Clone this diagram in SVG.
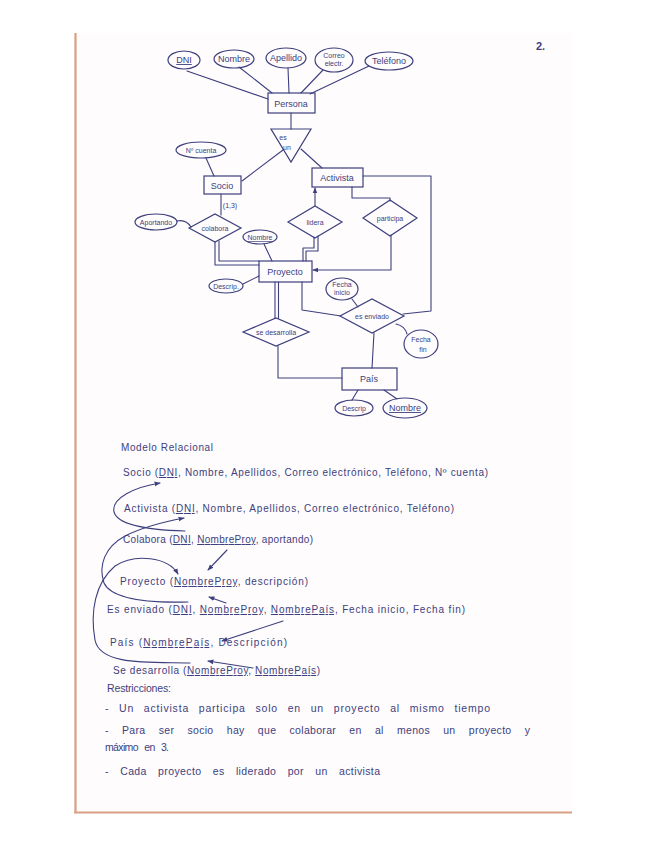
<svg xmlns="http://www.w3.org/2000/svg" width="655" height="848" viewBox="0 0 655 848">
<style>
  .ln { fill:none; stroke:#3d3f7e; stroke-width:1.1; stroke-linecap:round; stroke-linejoin:round }
  .shape { fill:none; stroke:#3d3f7e; stroke-width:1.2 }
  text { font-family:"Liberation Sans", Arial, sans-serif; fill:#3d3f7e }
  .lbl { font-size:9px; text-anchor:middle }
  .sm { font-size:7px; text-anchor:middle }
  .rel { font-size:10px }
  .rst { font-size:10.5px }
  .u { text-decoration:underline }
</style>
<defs>
  <marker id="ah" viewBox="0 0 10 10" refX="9" refY="5" markerWidth="6" markerHeight="6" orient="auto-start-reverse" markerUnits="userSpaceOnUse">
    <path d="M0,1 L10,5 L0,9 z" fill="#3d3f7e"/>
  </marker>
</defs>
<rect x="0" y="0" width="655" height="848" fill="#ffffff"/>
<rect x="75" y="33" width="497" height="779" fill="#fefcfc"/>
<line x1="75.5" y1="33" x2="75.5" y2="813" stroke="#d89f82" stroke-width="2.2"/>
<line x1="74" y1="812.5" x2="572" y2="812.5" stroke="#d89f82" stroke-width="2.2"/>
<text x="536" y="50" font-size="11" font-weight="bold">2.</text>

<g id="connectors">
  <line class="ln" x1="187" y1="71" x2="268" y2="99"/>
  <line class="ln" x1="239" y1="67" x2="272" y2="93"/>
  <line class="ln" x1="288" y1="68" x2="289" y2="93"/>
  <line class="ln" x1="323" y1="70" x2="301" y2="93"/>
  <line class="ln" x1="369" y1="66" x2="310" y2="94"/>
  <line class="ln" x1="291" y1="113" x2="291" y2="129"/>
  <line class="ln" x1="283" y1="150" x2="242" y2="181"/>
  <line class="ln" x1="301" y1="149" x2="322" y2="168"/>
  <line class="ln" x1="206" y1="158" x2="214" y2="176"/>
  <line class="ln" x1="221" y1="194" x2="221" y2="215"/>
  <path class="ln" d="M177 221 Q186 219 191 227"/>
  <path class="ln" d="M215 242 V265 H259"/>
  <path class="ln" d="M219 241 V261 H259"/>
  <line class="ln" x1="315" y1="206" x2="315" y2="188" marker-end="url(#ah)"/>
  <path class="ln" d="M314 237 V248 H303 V261"/>
  <path class="ln" d="M318 236 V251 H306 V261"/>
  <path class="ln" d="M352 187 V198 H390 V201"/>
  <path class="ln" d="M391 235 V270 H313" marker-end="url(#ah)"/>
  <path class="ln" d="M363 176 H431 V311 L403 314"/>
  <line class="ln" x1="264" y1="244" x2="272" y2="261"/>
  <line class="ln" x1="243" y1="284" x2="259" y2="276"/>
  <path class="ln" d="M302 282 V310 L341 316"/>
  <line class="ln" x1="352" y1="299" x2="358" y2="307"/>
  <path class="ln" d="M396 324 Q405 326 407 334"/>
  <line class="ln" x1="374" y1="333" x2="372" y2="368"/>
  <line class="ln" x1="275" y1="282" x2="275" y2="318"/>
  <line class="ln" x1="278.5" y1="282" x2="278.5" y2="318"/>
  <path class="ln" d="M278 346 V378 H342"/>
  <line class="ln" x1="358" y1="390" x2="352" y2="400"/>
  <line class="ln" x1="384" y1="390" x2="397" y2="399"/>
  <!-- relational model foreign-key arrows -->
  <path class="ln" d="M185 531 C150 530 118 526 114 512 C111 498 135 487 160 483" marker-end="url(#ah)"/>
  <path class="ln" d="M188 602 C150 603 112 600 104 583 C98 565 105 547 125 536 C145 526 168 521 184 518" marker-end="url(#ah)"/>
  <line class="ln" x1="227" y1="550" x2="208" y2="570" marker-end="url(#ah)"/>
  <line class="ln" x1="226" y1="603" x2="209" y2="597" marker-end="url(#ah)"/>
  <line class="ln" x1="283" y1="621" x2="222" y2="641" marker-end="url(#ah)"/>
  <path class="ln" d="M190 663 C150 662 100 666 95 640 C90 612 95 583 115 566 C135 553 168 557 178 574" marker-end="url(#ah)"/>
  <line class="ln" x1="253" y1="668" x2="208" y2="661" marker-end="url(#ah)"/>
</g>

<g id="attr-dni"><ellipse class="shape" cx="184" cy="60" rx="16" ry="9"/><text class="lbl u" x="184" y="63">DNI</text></g>
<g id="attr-nombre"><ellipse class="shape" cx="234" cy="59" rx="20" ry="9"/><text class="lbl" x="234" y="62">Nombre</text></g>
<g id="attr-apellido"><ellipse class="shape" cx="286" cy="58" rx="20" ry="10"/><text class="lbl" x="286" y="61">Apellido</text></g>
<g id="attr-correo"><ellipse class="shape" cx="334" cy="60" rx="19" ry="12"/><text class="sm" x="334" y="58">Correo</text><text class="sm" x="334" y="66">electr.</text></g>
<g id="attr-telefono"><ellipse class="shape" cx="389" cy="61" rx="24" ry="9"/><text class="lbl" x="389" y="64">Teléfono</text></g>
<g id="persona"><rect class="shape" x="268" y="93" width="47" height="20"/><text class="lbl" x="291" y="107">Persona</text></g>
<g id="es-un"><polygon class="shape" points="271,129 311,129 291,162"/><text class="sm" x="283" y="140">es</text><text class="sm" x="287" y="150">un</text></g>
<g id="attr-ncuenta"><ellipse class="shape" cx="201" cy="150" rx="25" ry="8"/><text class="sm" x="201" y="153">Nº cuenta</text></g>
<g id="socio"><rect class="shape" x="204" y="176" width="37" height="18"/><text class="lbl" x="222" y="189">Socio</text></g>
<g id="activista"><rect class="shape" x="312" y="168" width="51" height="19"/><text class="lbl" x="337" y="181">Activista</text></g>
<text class="sm" x="230" y="208" font-size="8">(1,3)</text>
<g id="colabora"><polygon class="shape" points="189,228 215,214 241,228 215,242"/><text class="sm" x="215" y="231" font-size="8">colabora</text></g>
<g id="attr-aportando"><ellipse class="shape" cx="156" cy="222" rx="21" ry="8"/><text class="sm" x="156" y="225">Aportando</text></g>
<g id="lidera"><polygon class="shape" points="288,222 315,206 342,222 315,238"/><text class="sm" x="315" y="225" font-size="8">lidera</text></g>
<g id="participa"><polygon class="shape" points="363,218 390,200 417,218 390,236"/><text class="sm" x="390" y="221" font-size="8">participa</text></g>
<g id="attr-nombre-proy"><ellipse class="shape" cx="260" cy="237" rx="17" ry="7"/><text class="sm u" x="260" y="240">Nombre</text></g>
<g id="proyecto"><rect class="shape" x="259" y="261" width="53" height="21"/><text class="lbl" x="285" y="275" font-size="10">Proyecto</text></g>
<g id="attr-descrip-proy"><ellipse class="shape" cx="226" cy="286" rx="17" ry="7"/><text class="sm" x="226" y="289">Descrip.</text></g>
<g id="attr-fecha-inicio"><ellipse class="shape" cx="342" cy="289" rx="16" ry="11"/><text class="sm" x="342" y="287" font-size="6.5">Fecha</text><text class="sm" x="342" y="295" font-size="6.5">inicio</text></g>
<g id="es-enviado"><polygon class="shape" points="340,316 372,299 404,316 372,333"/><text class="sm" x="372" y="319" font-size="8">es enviado</text></g>
<g id="attr-fecha-fin"><ellipse class="shape" cx="421" cy="344" rx="17" ry="14"/><text class="sm" x="421" y="342" font-size="8">Fecha</text><text class="sm" x="423" y="352" font-size="8">fin</text></g>
<g id="se-desarrolla"><polygon class="shape" points="243,332 276,318 309,332 276,346"/><text class="sm" x="276" y="335" font-size="7.5">se desarrolla</text></g>
<g id="pais"><rect class="shape" x="342" y="368" width="55" height="22"/><text class="lbl" x="369" y="382">País</text></g>
<g id="attr-descrip-pais"><ellipse class="shape" cx="354" cy="408" rx="19" ry="8"/><text class="sm" x="354" y="411">Descrip</text></g>
<g id="attr-nombre-pais"><ellipse class="shape" cx="405" cy="408" rx="22" ry="10"/><text class="lbl u" x="405" y="411" font-size="8">Nombre</text></g>

<g id="relational">
  <text class="rel" x="121" y="451" font-size="10.5" textLength="92" lengthAdjust="spacing">Modelo Relacional</text>
  <text class="rel" x="123" y="476" textLength="365" lengthAdjust="spacing">Socio (<tspan class="u">DNI</tspan>, Nombre, Apellidos, Correo electrónico, Teléfono, Nº cuenta)</text>
  <text class="rel" x="124" y="512" textLength="330" lengthAdjust="spacing">Activista (<tspan class="u">DNI</tspan>, Nombre, Apellidos, Correo electrónico, Teléfono)</text>
  <text class="rel" x="123" y="543" textLength="190" lengthAdjust="spacing">Colabora (<tspan class="u">DNI</tspan>, <tspan class="u">NombreProy</tspan>, aportando)</text>
  <text class="rel" x="120" y="585" textLength="188" lengthAdjust="spacing">Proyecto (<tspan class="u">NombreProy</tspan>, descripción)</text>
  <text class="rel" x="107" y="613" textLength="358" lengthAdjust="spacing">Es enviado (<tspan class="u">DNI</tspan>, <tspan class="u">NombreProy</tspan>, <tspan class="u">NombrePaís</tspan>, Fecha inicio, Fecha fin)</text>
  <text class="rel" x="110" y="646" textLength="177" lengthAdjust="spacing">País (<tspan class="u">NombrePaís</tspan>, Descripción)</text>
  <text class="rel" x="113" y="674" textLength="207" lengthAdjust="spacing">Se desarrolla (<tspan class="u">NombreProy</tspan>, <tspan class="u">NombrePaís</tspan>)</text>
  <text class="rst" x="107" y="692" textLength="64" lengthAdjust="spacing">Restricciones:</text>
  <text class="rst" x="105" y="712" word-spacing="6" textLength="385" lengthAdjust="spacing">- Un activista participa solo en un proyecto al mismo tiempo</text>
  <text class="rst" x="105" y="734" word-spacing="10" textLength="425" lengthAdjust="spacing">- Para ser socio hay que colaborar en al menos un proyecto y</text>
  <text class="rst" x="105" y="751" word-spacing="4" textLength="64" lengthAdjust="spacing">máximo en 3.</text>
  <text class="rst" x="105" y="775" word-spacing="8" textLength="275" lengthAdjust="spacing">- Cada proyecto es liderado por un activista</text>
</g>
</svg>
